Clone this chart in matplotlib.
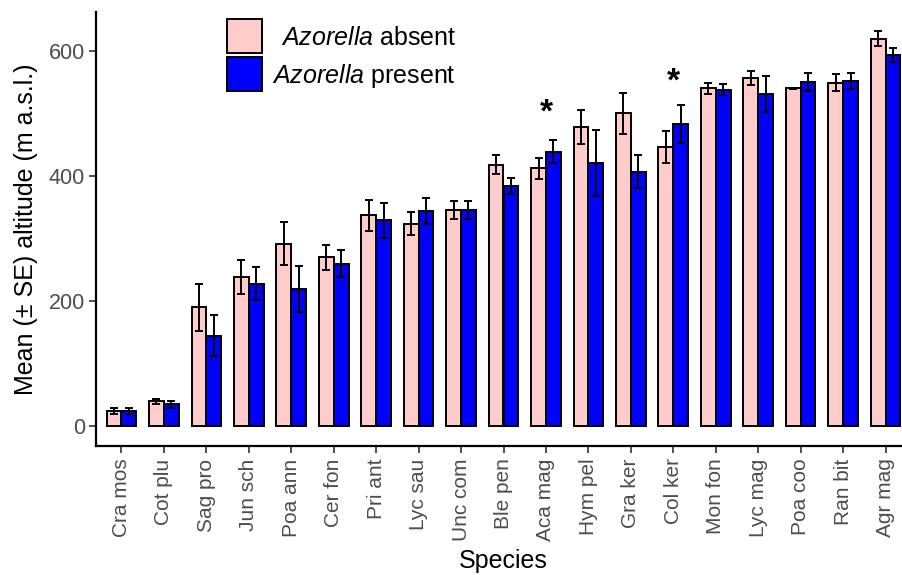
import numpy as np
import matplotlib.pyplot as plt
from matplotlib.patches import Rectangle

plt.rcParams['font.family'] = ['Liberation Sans', 'DejaVu Sans']
plt.rcParams['mathtext.fontset'] = 'custom'
plt.rcParams['mathtext.rm'] = 'Liberation Sans'
plt.rcParams['mathtext.it'] = 'Liberation Sans:italic'

# data
species = ['Cra mos', 'Cot plu', 'Sag pro', 'Jun sch', 'Poa ann', 'Cer fon', 'Pri ant',
           'Lyc sau', 'Unc com', 'Ble pen', 'Aca mag', 'Hym pel', 'Gra ker', 'Col ker',
           'Mon fon', 'Lyc mag', 'Poa coo', 'Ran bit', 'Agr mag']
absent_mean = [24, 40, 190, 239, 292, 270, 337, 324, 346, 418, 412, 478, 500, 446,
               540, 557, 540, 549, 619]
absent_se = [5, 4, 38, 27, 35, 20, 25, 18, 14, 15, 17, 27, 33, 26, 9, 11, 1, 14, 12]
present_mean = [24, 35, 145, 228, 219, 260, 329, 344, 346, 384, 439, 421, 407, 483,
                538, 531, 550, 552, 593]
present_se = [5, 5, 33, 26, 37, 22, 28, 21, 14, 13, 19, 53, 26, 30, 9, 28, 15, 13, 11]
signif = ['Aca mag', 'Col ker']
star_y = [500, 550]

pink = '#FFCCCC'
blue = '#0000FF'
grey = '#4D4D4D'

W, H = 902, 575
fig = plt.figure(figsize=(W / 100, H / 100), dpi=100)
ax = fig.add_axes([96 / W, 1 - 446 / H, 815 / W, 434 / H])

x = np.arange(len(species))
w = 0.35
ax.bar(x - w / 2, absent_mean, w, color=pink, edgecolor='black', linewidth=1.4, zorder=2)
ax.bar(x + w / 2, present_mean, w, color=blue, edgecolor='black', linewidth=1.4, zorder=2)
ax.errorbar(x - w / 2, absent_mean, yerr=absent_se, fmt='none', ecolor='black',
            elinewidth=1.4, capsize=3.2, capthick=1.4, zorder=3)
ax.errorbar(x + w / 2, present_mean, yerr=present_se, fmt='none', ecolor='black',
            elinewidth=1.4, capsize=3.2, capthick=1.4, zorder=3)

for sp, sy in zip(signif, star_y):
    ax.text(species.index(sp), sy, '*', ha='center', va='center', fontsize=24,
            fontweight='bold', color='black')

ax.set_xlim(-0.6, len(species) - 0.4)
ax.set_ylim(-31.5, 662)
ax.set_xticks(x)
ax.set_xticklabels(species, rotation=90, fontsize=15, color=grey)
ax.set_yticks([0, 200, 400, 600])
ax.tick_params(axis='y', labelsize=15.5, colors='#333333', length=5, width=1.2, pad=3)
ax.tick_params(axis='x', length=5, width=1.2, colors='#333333', pad=4)
for lab in ax.get_yticklabels() + ax.get_xticklabels():
    lab.set_color(grey)

for s in ['top', 'right']:
    ax.spines[s].set_visible(False)
for s in ['left', 'bottom']:
    ax.spines[s].set_linewidth(1.6)
    ax.spines[s].set_color('black')

ax.set_xlabel('Species', fontsize=18, labelpad=6)
ax.set_ylabel('Mean (± SE) altitude (m a.s.l.)', fontsize=18, labelpad=8)

# legend drawn by hand: keys at left, labels right-aligned
leg_cols = [pink, blue]
leg_labels = [r'$\it{Azorella}$ absent', r'$\it{Azorella}$ present']
key_top = [19, 57]
for col, lab, top in zip(leg_cols, leg_labels, key_top):
    fig.patches.append(Rectangle((227 / W, 1 - (top + 34) / H), 35 / W, 34 / H,
                                 transform=fig.transFigure, facecolor=col,
                                 edgecolor='black', linewidth=1.4))
    fig.text(456 / W, 1 - (top + 19) / H, lab, ha='right', va='center', fontsize=18)

fig.savefig('out.png', dpi=100)
